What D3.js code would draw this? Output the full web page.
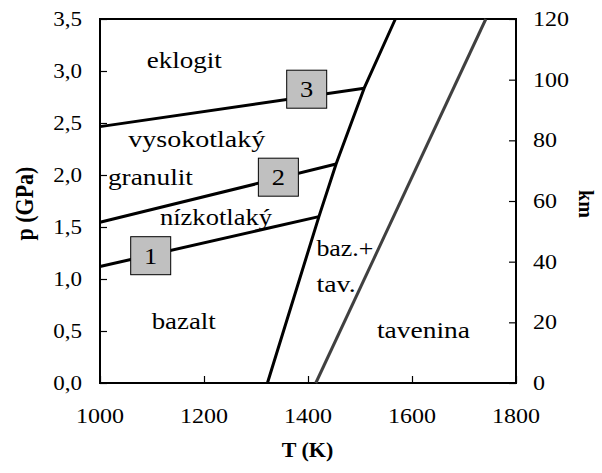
<!DOCTYPE html>
<html>
<head>
<meta charset="utf-8">
<script src="https://cdn.jsdelivr.net/npm/d3@7"></script>
<style>
  html, body { margin: 0; padding: 0; background: #fff; }
  svg { display: block; }
  text { fill: #000; }
</style>
</head>
<body>
<svg id="chart" width="602" height="473"></svg>
<script>
// Phase diagram of basalt: p (GPa) vs T (K), depth in km on the right axis

// Axis ticks
const tempTicks = [1000, 1200, 1400, 1600, 1800];
const pressTicks = [0, 0.5, 1.0, 1.5, 2.0, 2.5, 3.0, 3.5];
const depthTicks = [0, 20, 40, 60, 80, 100, 120];

// Phase boundaries [T (K), p (GPa)]
const boundary1 = [[1000, 1.12], [1421, 1.60]];
const boundary2 = [[1000, 1.545], [1454, 2.105]];
const boundary3 = [[1000, 2.465], [1508, 2.835]];
const solidus = [[1322, 0], [1421, 1.60], [1454, 2.105], [1508, 2.835], [1568, 3.5]];
const liquidus = [[1415, 0], [1742, 3.5]];

// Numbered markers on the boundaries [T, p, label]
const markers = [[1097.5, 1.224, "1"], [1343, 1.979, "2"], [1397.5, 2.825, "3"]];

// Phase field names [T, p, name] (text centre, baseline)
const fields = [
  [1162, 3.03, "eklogit"],
  [1186, 2.27, "vysokotlaký"],
  [1097, 1.904, "granulit"],
  [1223, 1.52, "nízkotlaký"],
  [1161, 0.52, "bazalt"],
  [1471, 1.22, "baz.+"],
  [1454, 0.875, "tav."],
  [1622, 0.433, "tavenina"]
];

const svg = d3.select("#chart");
const mLeft = 100, mRight = 516, mTop = 19, mBottom = 383;

// Set widths of the field names (px)
const fieldWidth = {
  "eklogit": 75, "vysokotlaký": 137, "granulit": 85, "nízkotlaký": 112,
  "bazalt": 64, "baz.+": 57, "tav.": 39, "tavenina": 93
};

// Pick an installed Times-like serif; scale widths if only a wider serif exists
const ctx = document.createElement("canvas").getContext("2d");
function textWidth(font, s) { ctx.font = font; return ctx.measureText(s).width; }
const probe = "0000 ilmwWQ";
const monoW = textWidth("100px monospace", probe);
const candidates = ["Liberation Serif", "Times New Roman", "Tinos", "Nimbus Roman", "FreeSerif", "DejaVu Serif"];
let family = "serif";
for (const c of candidates) {
  if (Math.abs(textWidth(`100px "${c}", monospace`, probe) - monoW) > 0.5) { family = c; break; }
}
const widthFix = 200 / textWidth(`100px "${family}", serif`, "0000");
const fontStack = `"${family}", "Liberation Serif", "Times New Roman", serif`;

const x = d3.scaleLinear().domain([1000, 1800]).range([mLeft, mRight]);
const y = d3.scaleLinear().domain([0, 3.5]).range([mBottom, mTop]);
const yKm = d3.scaleLinear().domain([0, 120]).range([mBottom, mTop]);

const comma = d3.formatLocale({decimal: ",", thousands: " ", grouping: [3], currency: ["", ""]});
const fmtP = comma.format(".1f");

// Text with optional stretch along either local axis
function label(g, px, py, str, opts) {
  const o = Object.assign({size: 24, sx: 1.1, sy: 1, anchor: "middle", weight: "normal", rotate: 0, along: "x"}, opts || {});
  let sx = o.sx, sy = o.sy;
  if (!o.width) sx *= widthFix;
  const t = g.append("g")
    .attr("transform", `translate(${px},${py}) rotate(${o.rotate}) scale(${sx},${sy})`);
  const txt = t.append("text")
    .attr("text-anchor", o.anchor)
    .attr("font-family", fontStack)
    .attr("font-size", o.size)
    .attr("font-weight", o.weight)
    .text(str);
  if (o.width) txt.attr("textLength", o.width).attr("lengthAdjust", "spacingAndGlyphs");
  return t;
}

const line = d3.line().x(d => x(d[0])).y(d => y(d[1]));

// Plot frame
svg.append("rect")
  .attr("x", mLeft).attr("y", mTop)
  .attr("width", mRight - mLeft).attr("height", mBottom - mTop)
  .attr("fill", "none").attr("stroke", "#000").attr("stroke-width", 2);

// Axes: inward ticks, labels added separately
const axB = svg.append("g").attr("transform", `translate(0,${mBottom})`)
  .call(d3.axisTop(x).tickValues(tempTicks).tickSize(7).tickFormat(""));
const axL = svg.append("g").attr("transform", `translate(${mLeft},0)`)
  .call(d3.axisRight(y).tickValues(pressTicks).tickSize(7).tickFormat(""));
const axR = svg.append("g").attr("transform", `translate(${mRight},0)`)
  .call(d3.axisLeft(yKm).tickValues(depthTicks).tickSize(7).tickFormat(""));
[axB, axL, axR].forEach(a => {
  a.select(".domain").remove();
  a.selectAll(".tick line").attr("stroke", "#000").attr("stroke-width", 1.2);
});

const tickG = svg.append("g");
tempTicks.forEach(t => label(tickG, x(t), mBottom + 40, String(t), {size: 20, sx: 1.2}));
pressTicks.forEach(p => label(tickG, mLeft - 18, y(p) + 7, fmtP(p), {size: 20, sx: 1.15, anchor: "end"}));
depthTicks.forEach(k => label(tickG, mRight + 17, yKm(k) + 7, String(k), {size: 20, sx: 1.2, anchor: "start"}));

// Axis titles
label(svg, 307.5, 457, "T (K)", {size: 20, sx: 1.1, weight: "bold"});
label(svg, 32.5, 203.5, "p (GPa)", {size: 22, sx: 1.0, sy: 1.15, weight: "bold", rotate: -90});
label(svg, 579, 204, "km", {size: 20, sx: 1.0, sy: 1.05, weight: "bold", rotate: 90});

// Boundaries
const plot = svg.append("g");
[boundary1, boundary2, boundary3, solidus].forEach(b => {
  plot.append("path").datum(b).attr("d", line)
    .attr("fill", "none").attr("stroke", "#000").attr("stroke-width", 3)
    .attr("stroke-linejoin", "round");
});
plot.append("path").datum(liquidus).attr("d", line)
  .attr("fill", "none").attr("stroke", "#404040").attr("stroke-width", 3);

// Field names
const fieldG = svg.append("g");
fields.forEach(f => label(fieldG, x(f[0]), y(f[1]), f[2], {size: 24, sx: 1, width: fieldWidth[f[2]]}));

// Numbered markers
const mG = svg.append("g");
markers.forEach(m => {
  const cx = x(m[0]), cy = y(m[1]);
  mG.append("rect")
    .attr("x", cx - 20).attr("y", cy - 19)
    .attr("width", 40).attr("height", 38)
    .attr("fill", "#c0c0c0").attr("stroke", "#000").attr("stroke-width", 1);
  label(mG, cx, cy + 8, m[2], {size: 24, sx: 1.1});
});
</script>
</body>
</html>
